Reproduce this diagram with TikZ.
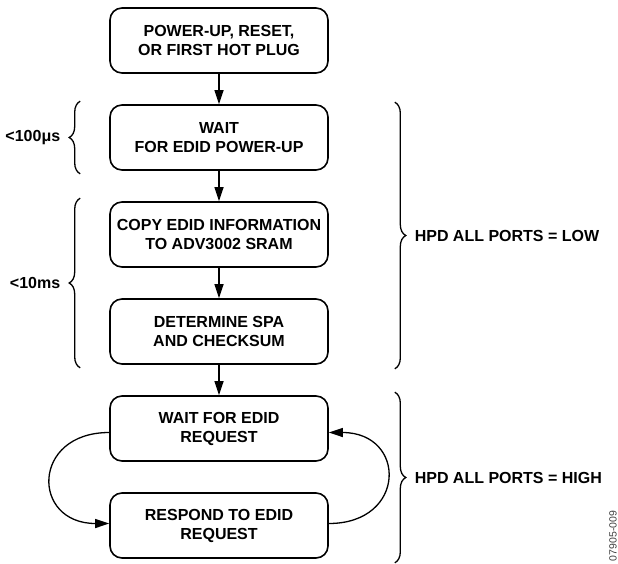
\documentclass[tikz,border=0pt]{standalone}
\usepackage{fontspec}
\setmainfont{Liberation Sans}
\usepackage{tikz}
\usetikzlibrary{positioning,arrows.meta,decorations.pathreplacing}
\newcommand{\flowfont}{\fontsize{16}{19}\selectfont\bfseries}

\begin{document}
\begin{tikzpicture}[block/.style = {draw, rounded corners=12pt, line width=1.6pt, minimum width=218pt, minimum height=65pt, align=center, font=\flowfont}, brc/.style = {decorate, decoration={brace, amplitude=11pt}}, node distance={97pt}, >={Triangle[length=14pt,width=9pt]}, line width=1.3pt]
        \useasboundingbox (0,0) rectangle (618pt,-563pt);
        \node[block] (1) at (219pt,-40.5pt) {POWER-UP, RESET,\\OR FIRST HOT PLUG};
        \node[block, below of=1] (2) {WAIT\\FOR EDID POWER-UP};
        \node[block, below of=2] (3) {COPY EDID INFORMATION\\TO ADV3002 SRAM};
        \node[block, below of=3] (4) {DETERMINE SPA\\AND CHECKSUM};
        \node[block, below of=4] (5) {WAIT FOR EDID\\REQUEST};
        \node[block, below of=5] (6) {RESPOND TO EDID\\REQUEST};
        \draw[->] (1) -- (2);
        \draw[->] (2) -- (3);
        \draw[->] (3) -- (4);
        \draw[->] (4) -- (5);
        \draw[->] ([yshift=-4pt]5.west) to[out=180, in=180, looseness=2.2] ([yshift=2pt]6.west);
        \draw[->] ([yshift=2pt]6.east) to[out=0, in=0, looseness=2.2] ([yshift=-4pt]5.east);
        % timing braces
        \draw[brc] ([xshift=-29pt,yshift=-3pt]2.south west) -- ([xshift=-29pt,yshift=3pt]2.north west) node[midway, left=16pt, font=\flowfont] (t1) {<100μs};
        \draw[brc] ([xshift=-29pt,yshift=-3pt]4.south west) -- ([xshift=-29pt,yshift=3pt]3.north west) node[midway, left=16pt, font=\flowfont] (t2) {<10ms};
        % port state braces
        \draw[brc] ([xshift=66pt,yshift=2pt]2.north east) -- ([xshift=66pt,yshift=-4pt]4.south east) node[midway, right=16pt, font=\flowfont] (low) {HPD ALL PORTS = LOW};
        \draw[brc] ([xshift=66pt,yshift=3pt]5.north east) -- ([xshift=66pt,yshift=-4pt]6.south east) node[midway, right=16pt, font=\flowfont] (high) {HPD ALL PORTS = HIGH};
        \node[rotate=90, font=\fontsize{10.5}{12}\selectfont, text=black!75] (id) at (613pt,-536pt) {07905-009};
    \end{tikzpicture}
\end{document}
